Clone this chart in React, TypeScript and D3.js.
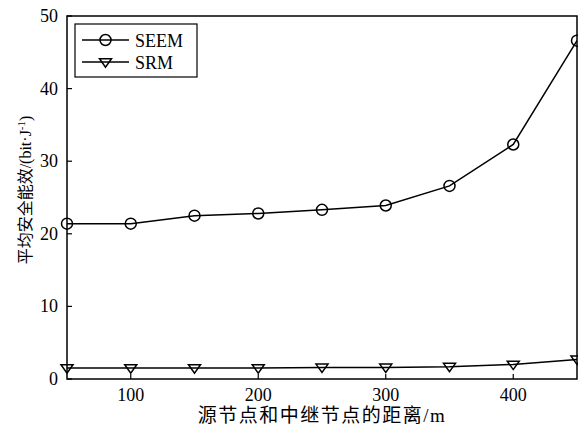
import React from "react";
import * as d3 from "d3";

const distances = [50, 100, 150, 200, 250, 300, 350, 400, 450];
const seem = [21.4, 21.4, 22.5, 22.8, 23.3, 23.9, 26.6, 32.3, 46.6];
const srm = [1.5, 1.5, 1.5, 1.5, 1.6, 1.6, 1.7, 2.0, 2.7];
const xTicks = [100, 200, 300, 400];
const yTicks = [0, 10, 20, 30, 40, 50];

const W = 578, H = 428;
const M = { left: 67, right: 1, top: 16, bottom: 49 };

export default function App() {
  const x = d3.scaleLinear().domain([50, 450]).range([M.left, W - M.right]);
  const y = d3.scaleLinear().domain([0, 50]).range([H - M.bottom, M.top]);
  const line = d3.line<number>().x((_, i) => x(distances[i])).y((d) => y(d));
  const font = "'Liberation Serif', 'Times New Roman', serif";
  const cjk = "'Liberation Serif', 'Noto Sans CJK SC', serif";
  const tri = (cx: number, cy: number, r = 6) =>
    `M${cx - r},${cy - r * 0.55}L${cx + r},${cy - r * 0.55}L${cx},${cy + r * 0.85}Z`;
  return (
    <svg width={W} height={H} style={{ position: "absolute", left: 0, top: 0, background: "#fff" }}>
      <rect x={0} y={0} width={W} height={H} fill="#fff" />
      <defs>
        <clipPath id="clip">
          <rect x={M.left - 8} y={M.top} width={W - M.left + 8} height={H - M.bottom - M.top + 8} />
        </clipPath>
      </defs>
      <g clipPath="url(#clip)">
        <path d={line(seem) || ""} fill="none" stroke="#000" strokeWidth={1.5} />
        <path d={line(srm) || ""} fill="none" stroke="#000" strokeWidth={1.5} />
        {seem.map((v, i) => (
          <circle key={"c" + i} cx={x(distances[i])} cy={y(v)} r={5.5} fill="none" stroke="#000" strokeWidth={1.5} />
        ))}
        {srm.map((v, i) => (
          <path key={"t" + i} d={tri(x(distances[i]), y(v))} fill="none" stroke="#000" strokeWidth={1.5} />
        ))}
      </g>
      {xTicks.map((t) => (
        <g key={"xt" + t}>
          <line x1={x(t)} x2={x(t)} y1={y(0)} y2={y(0) - 5} stroke="#000" strokeWidth={1.2} />
          <text x={x(t)} y={y(0) + 22} textAnchor="middle" fontFamily={font} fontSize={18}>{t}</text>
        </g>
      ))}
      {yTicks.map((t) => (
        <g key={"yt" + t}>
          <line x1={M.left} x2={M.left + 5} y1={y(t)} y2={y(t)} stroke="#000" strokeWidth={1.2} />
          <text x={M.left - 9} y={y(t) + 6} textAnchor="end" fontFamily={font} fontSize={18}>{t}</text>
        </g>
      ))}
      <rect x={M.left} y={M.top} width={W - M.right - M.left} height={H - M.bottom - M.top} fill="none" stroke="#000" strokeWidth={1.5} />
      <g>
        <rect x={75} y={24} width={122} height={53} fill="#fff" stroke="#000" strokeWidth={1.2} />
        <line x1={82} x2={129} y1={40} y2={40} stroke="#000" strokeWidth={1.5} />
        <circle cx={105.5} cy={40} r={5.5} fill="none" stroke="#000" strokeWidth={1.5} />
        <text x={135} y={46.5} fontFamily={font} fontSize={18}>SEEM</text>
        <line x1={82} x2={129} y1={62} y2={62} stroke="#000" strokeWidth={1.5} />
        <path d={tri(105.5, 62)} fill="none" stroke="#000" strokeWidth={1.5} />
        <text x={135} y={68.5} fontFamily={font} fontSize={18}>SRM</text>
      </g>
      <text x={322} y={422} textAnchor="middle" fontFamily={cjk} fontSize={19} letterSpacing={1.5}>源节点和中继节点的距离/m</text>
      <text transform={`translate(31, 190) rotate(-90)`} textAnchor="middle" fontFamily={cjk} fontSize={16}>
        平均安全能效/(bit·J<tspan dy={-6} fontSize={11}>-1</tspan><tspan dy={6}>)</tspan>
      </text>
    </svg>
  );
}
